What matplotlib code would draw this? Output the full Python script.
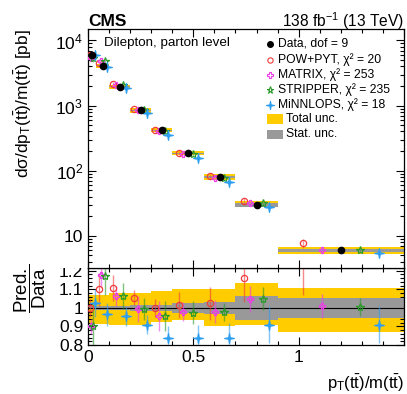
import numpy as np
import matplotlib
matplotlib.use('Agg')
import matplotlib.pyplot as plt
from matplotlib.ticker import MultipleLocator, LogLocator, FixedLocator, FuncFormatter, NullFormatter
from matplotlib.patches import Rectangle
from matplotlib.path import Path

plt.rcParams['font.family'] = ['Liberation Sans', 'DejaVu Sans']
plt.rcParams['mathtext.fontset'] = 'custom'
plt.rcParams['mathtext.rm'] = 'Liberation Sans'
plt.rcParams['mathtext.it'] = 'Liberation Sans'
plt.rcParams['mathtext.bf'] = 'Liberation Sans:bold'

# bins in pT(tt)/m(tt)
edges = np.array([0.0, 0.04, 0.1, 0.2, 0.3, 0.4, 0.55, 0.7, 0.9, 1.5])

# measured cross section [pb]
data = np.array([5900, 4100, 1950, 850, 420, 185, 80, 30, 6.0])
# relative uncertainties
tot_up = np.array([0.07, 0.07, 0.08, 0.08, 0.09, 0.10, 0.10, 0.135, 0.105])
tot_dn = np.array([0.085, 0.085, 0.09, 0.09, 0.075, 0.065, 0.10, 0.09, 0.13])
stat = np.array([0.008, 0.01, 0.012, 0.015, 0.017, 0.025, 0.032, 0.064, 0.052])

# predictions / data
pow_ratio = np.array([1.00, 1.10, 1.105, 1.055, 1.00, 1.015, 1.025, 1.16, 1.27])
pow_err = np.array([0.05, 0.09, 0.07, 0.04, 0.05, 0.07, 0.09, 0.13, 0.20])
matrix_ratio = np.array([0.90, 1.175, 1.065, 0.995, 0.955, 0.98, 0.98, 1.05, 1.01])
matrix_err = np.array([0.04, 0.06, 0.055, 0.07, 0.08, 0.05, 0.06, 0.07, 0.065])
stripper_ratio = np.array([0.90, 1.17, 1.065, 0.995, 0.955, 0.975, 0.978, 1.05, 1.005])
stripper_err = np.array([0.12, 0.10, 0.07, 0.06, 0.08, 0.06, 0.05, 0.06, 0.05])
minnlo_ratio = np.array([1.025, 0.965, 0.955, 0.91, 0.84, 0.84, 0.84, 0.91, 0.91])
minnlo_err = np.array([0.075, 0.06, 0.05, 0.05, 0.06, 0.07, 0.08, 0.10, 0.10])

# thin four-pointed star, like the ROOT marker
ang = np.pi / 2 + np.arange(9) * np.pi / 4
rad = np.where(np.arange(9) % 2 == 0, 1.0, 0.22)
star4 = Path(np.c_[rad * np.cos(ang), rad * np.sin(ang)], closed=True)

preds = [
    ('POW+PYT, χ² = 20', pow_ratio, pow_err, '#f03c3c', dict(marker='o', mfc='none', ms=4.5)),
    ('MATRIX, χ² = 253', matrix_ratio, matrix_err, '#ee3ee8', dict(marker='P', mfc='none', ms=5)),
    ('STRIPPER, χ² = 235', stripper_ratio, stripper_err, '#2a9a2a', dict(marker='*', mfc='none', ms=6)),
    ('MiNNLOPS, χ² = 18', minnlo_ratio, minnlo_err, '#2e9ff0', dict(marker=star4, ms=7)),
]
offsets = [-0.3, -0.15, 0.15, 0.3]

yellow = '#ffcc00'
grey = '#999999'

centers = 0.5 * (edges[1:] + edges[:-1])
widths = edges[1:] - edges[:-1]

W, H = 407, 394
fig = plt.figure(figsize=(W / 100, H / 100), dpi=100)
ax2 = fig.add_axes([88 / W, 1 - 345 / H, 316 / W, 77 / H], zorder=0)
ax = fig.add_axes([88 / W, 1 - 268 / H, 316 / W, 239 / H], zorder=2)
# hide top of the clipped "1.2" label like the upper pad does
fig.patches.append(Rectangle((50 / W, 1 - 268 / H), 36 / W, 14 / H, transform=fig.transFigure,
                             facecolor='white', edgecolor='none', zorder=1))

# ---- upper panel
ax.bar(edges[:-1], data * (tot_up + tot_dn), bottom=data * (1 - tot_dn), width=widths,
       align='edge', color=yellow, linewidth=0, zorder=1)
ax.bar(edges[:-1], data * 2 * stat, bottom=data * (1 - stat), width=widths,
       align='edge', color=grey, linewidth=0, zorder=2)
for (lab, r, e, c, st), off in zip(preds, offsets):
    x = centers + off * widths
    ax.errorbar(x, data * r, yerr=data * e, fmt='none', ecolor=c, elinewidth=1.0, alpha=0.5, zorder=3)
    ax.plot(x, data * r, ls='none', color=c, mec=c, mew=0.9, zorder=4, **st)
ax.plot(centers, data, 'o', color='black', ms=4.5, zorder=5)

ax.set_yscale('log')
ax.set_xlim(0, 1.5)
ax.set_ylim(3.2, 1.5e4)
ax.yaxis.set_major_locator(LogLocator(base=10, numticks=10))
ax.yaxis.set_minor_locator(LogLocator(base=10, subs=np.arange(2, 10), numticks=20))
ax.yaxis.set_minor_formatter(NullFormatter())
ax.yaxis.set_major_formatter(FuncFormatter(
    lambda v, p: '10' if abs(v - 10) < 1e-6 else '$10^{%d}$' % round(np.log10(v))))
ax.xaxis.set_major_locator(MultipleLocator(0.5))
ax.xaxis.set_minor_locator(MultipleLocator(0.1))
ax.tick_params(labelbottom=False)
ax.set_ylabel('$d\\sigma/dp_{T}(t\\bar{t})/m(t\\bar{t})$ [pb]', fontsize=12.5, loc='top')
ax.yaxis.set_label_coords(-0.17, 1.0)

ax.text(0.05, 0.965, 'Dilepton, parton level', transform=ax.transAxes, fontsize=9.6, va='top')
fig.text(88 / W, 1 - 21 / H, 'CMS', fontsize=12.5, fontweight='bold', va='center', ha='left')
fig.text(404 / W, 1 - 21 / H, '138 fb$^{-1}$ (13 TeV)', fontsize=11.2, va='center', ha='right')

# legend drawn by hand at the reference positions
legy = [44, 60, 75, 90, 105, 119, 134]
lx = (270 - 88) / 316.
tx = (278 - 88) / 316.
def fy(yp):
    return (268 - yp) / 239.
ax.plot([lx], [fy(legy[0])], 'o', color='black', ms=4, transform=ax.transAxes, clip_on=False)
ax.text(tx, fy(legy[0]), 'Data, dof = 9', transform=ax.transAxes, fontsize=8.7, va='center')
for i, (lab, r, e, c, st) in enumerate(preds):
    st2 = dict(st)
    st2['ms'] = st['ms'] * 0.85
    ax.plot([lx], [fy(legy[i + 1])], ls='none', color=c, mec=c, mew=0.8, transform=ax.transAxes,
            clip_on=False, **st2)
    ax.text(tx, fy(legy[i + 1]), lab, transform=ax.transAxes, fontsize=8.7, va='center')
for yp, c, lab in [(legy[5], yellow, 'Total unc.'), (legy[6], grey, 'Stat. unc.')]:
    ax.add_patch(Rectangle(((267 - 88) / 316., fy(yp + 4.5)), 16 / 316., 9 / 239.,
                           transform=ax.transAxes, facecolor=c, edgecolor='none'))
    ax.text((286 - 88) / 316., fy(yp), lab, transform=ax.transAxes, fontsize=8.7, va='center')

# ---- ratio panel
ax2.bar(edges[:-1], tot_up + tot_dn, bottom=1 - tot_dn, width=widths, align='edge',
        color=yellow, linewidth=0, zorder=1)
ax2.bar(edges[:-1], 2 * stat, bottom=1 - stat, width=widths, align='edge',
        color=grey, linewidth=0, zorder=2)
ax2.axhline(1, color='black', lw=0.8, zorder=3)
for (lab, r, e, c, st), off in zip(preds, offsets):
    x = centers + off * widths
    ax2.errorbar(x, r, yerr=e, fmt='none', ecolor=c, elinewidth=1.0, alpha=0.6, zorder=4)
    ax2.plot(x, r, ls='none', color=c, mec=c, mew=0.9, zorder=5, **st)
ax2.set_xlim(0, 1.5)
ax2.set_ylim(0.8, 1.215)
ax2.yaxis.set_major_locator(FixedLocator([0.8, 0.9, 1.0, 1.1, 1.2]))
ax2.yaxis.set_major_formatter(FuncFormatter(lambda v, p: '%g' % v))
ax2.yaxis.set_minor_locator(MultipleLocator(0.02))
ax2.xaxis.set_major_locator(FixedLocator([0, 0.5, 1.0]))
ax2.xaxis.set_minor_locator(MultipleLocator(0.1))
ax2.xaxis.set_major_formatter(FuncFormatter(lambda v, p: '%g' % v))
ax2.set_ylabel('$\\dfrac{Pred.}{Data}$', fontsize=13.5)
ax2.yaxis.set_label_coords(-0.127, 0.74)
ax2.set_xlabel('$p_{T}(t\\bar{t})/m(t\\bar{t})$', fontsize=12, loc='right', labelpad=6)

for a in (ax, ax2):
    a.tick_params(which='both', direction='in', top=True, right=True, labelsize=12.5)
    a.tick_params(which='major', length=6, width=0.8)
    a.tick_params(which='minor', length=3, width=0.8)
    for s in a.spines.values():
        s.set_linewidth(0.9)

fig.savefig('out.png', dpi=100)
